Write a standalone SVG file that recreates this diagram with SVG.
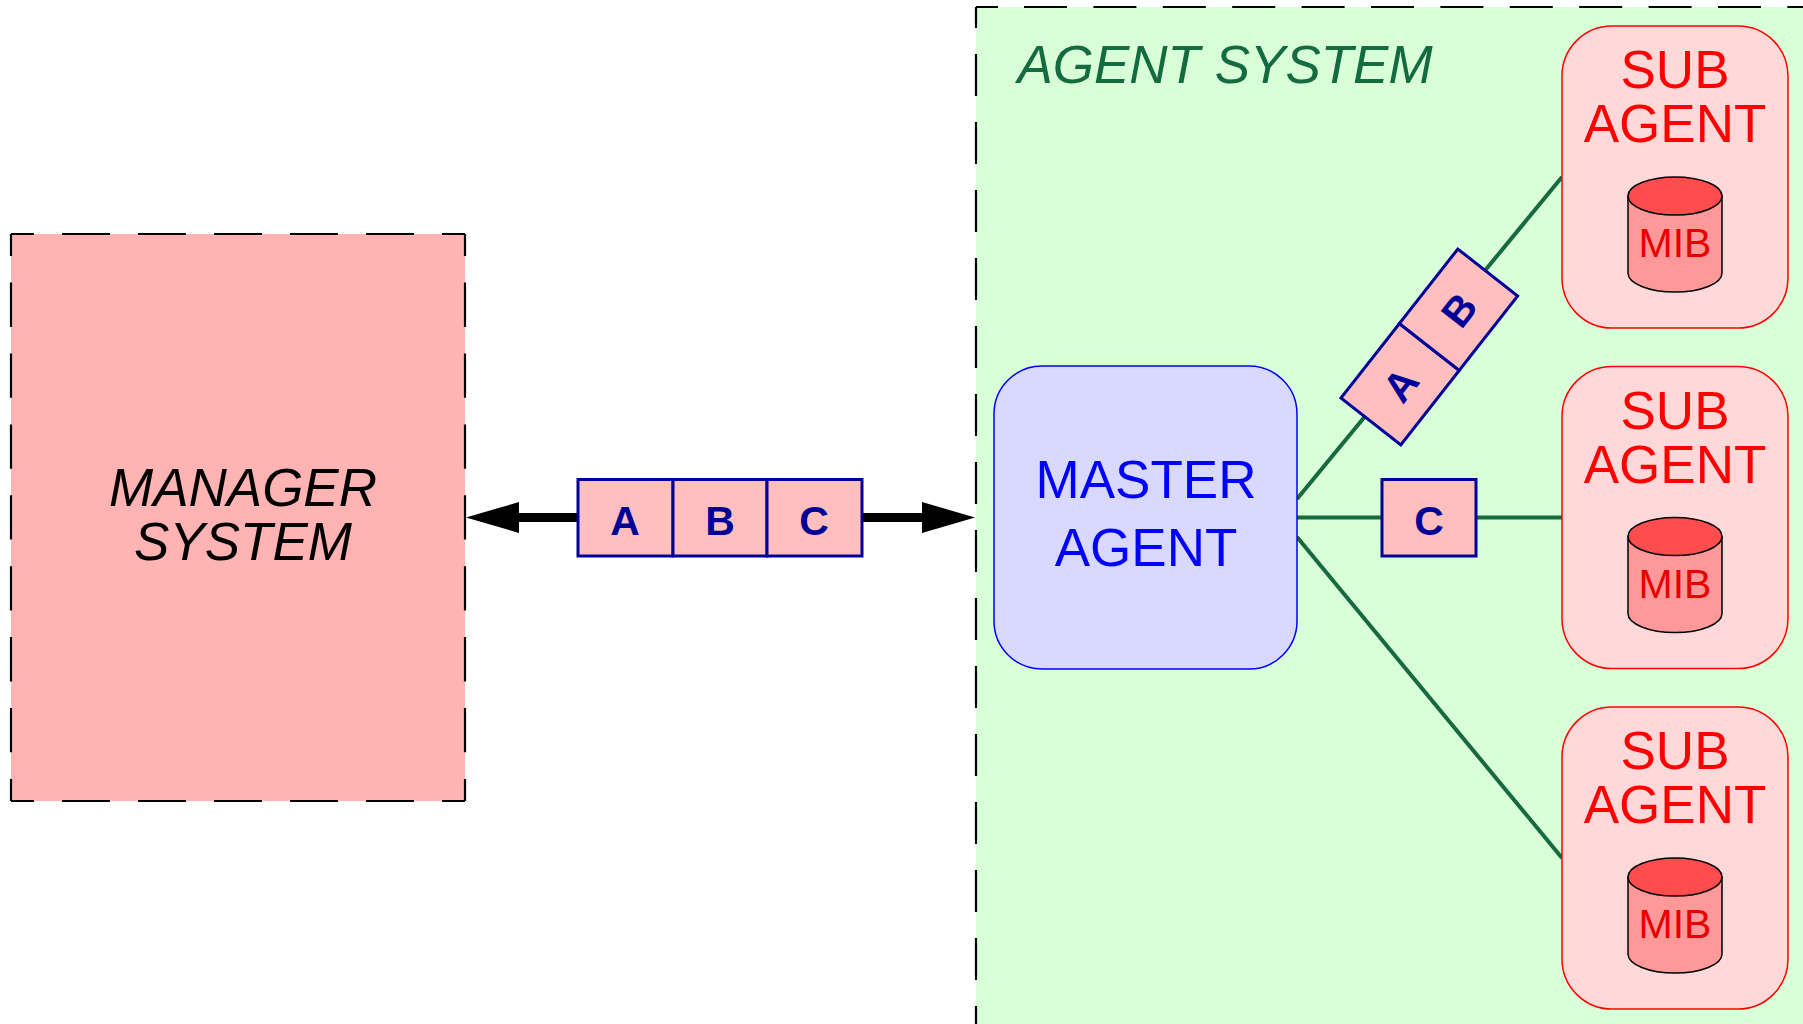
<svg xmlns="http://www.w3.org/2000/svg" width="1803" height="1024" viewBox="0 0 1803 1024">
<style>
text{font-family:"Liberation Sans",Arial,sans-serif;text-anchor:middle}
.big{font-size:53px}
.it{font-style:italic}
.sub{fill:#ff0000}
.mib{font-size:41px;fill:#e60000}
.pk{font-size:41px;font-weight:bold;fill:#000099}
.cell{fill:#ffbfbf;stroke:#000099;stroke-width:3}
.lk{stroke:#166a3e;stroke-width:4;fill:none}
.dm{stroke:#000;stroke-width:2.2;fill:none}
.sa{fill:#ffd9d9;stroke:#ff0000;stroke-width:1.5}
.cb{fill:#ff9999;stroke:#000;stroke-width:1.5}
.ct{fill:#ff4d4d;stroke:#000;stroke-width:1.5}
</style>
<defs>
<g id="sa">
<rect class="sa" x="1562" y="26" width="226" height="302" rx="50" ry="50"/>
<text class="big sub" x="1675" y="88">SUB</text>
<text class="big sub" x="1675" y="142">AGENT</text>
<path class="cb" d="M1628 196V273A47 19 0 0 0 1722 273V196Z"/>
<ellipse class="ct" cx="1675" cy="196" rx="47" ry="19"/>
<text class="mib" x="1675" y="257">MIB</text>
</g>
</defs>
<g id="agent-system">
<rect x="976" y="7" width="827" height="1017" fill="#d9ffd9"/>
<path class="dm" d="M976 7H1803" stroke-dasharray="22 26 43 26.4 43 26.4 43 26.4 43 26.4 43 26.4 43 26.4 43 26.4 43 26.4 43 26.4 43 26.4 43 26.4 43 26.4"/>
<path class="dm" d="M976 7V1024" stroke-dasharray="21 26 42 26 42 26 42 26 42 26 42 26 42 26 42 26 42 26 42 26 42 26 42 26 42 26 42 26 42 26 42 26"/>
<text class="big it" x="1225" y="83" fill="#146b3f">AGENT SYSTEM</text>
</g>
<g id="manager-system">
<rect x="11" y="234" width="454" height="567" fill="#ffb3b3"/>
<path class="dm" d="M11 234H465M11 801H465" stroke-dasharray="23 28 48 28 48 28 48 28 48 28 48 28 48"/>
<path class="dm" d="M11 234V801M465 234V801" stroke-dasharray="22 26.6 44.3 26.6 44.3 26.6 44.3 26.6 44.3 26.6 44.3 26.6 44.3 26.6 44.3 26.6 44.3"/>
<text class="big it" x="243" y="506">MANAGER</text>
<text class="big it" x="243" y="560">SYSTEM</text>
</g>
<g id="connectors">
<path class="lk" d="M1297 499L1562 177"/>
<path class="lk" d="M1297 517.5H1562"/>
<path class="lk" d="M1297 537L1562 858"/>
<path d="M518 517.5H578M862 517.5H922" stroke="#000" stroke-width="9" fill="none"/>
<path d="M466 517.5L519 502V533Z" fill="#000"/>
<path d="M975 517.5L922 502V533Z" fill="#000"/>
</g>
<g id="master-agent">
<rect x="994" y="366" width="303" height="303" rx="48" ry="48" fill="#d9d9ff" stroke="#0000ff" stroke-width="1.5"/>
<text class="big" x="1146" y="498" fill="#0000ff">MASTER</text>
<text class="big" x="1146" y="566" fill="#0000ff">AGENT</text>
</g>
<g id="sub-agent-1"><use href="#sa"/></g>
<g id="sub-agent-2"><use href="#sa" y="340.5"/></g>
<g id="sub-agent-3"><use href="#sa" y="681"/></g>
<g id="packet-abc">
<rect class="cell" x="578" y="479.5" width="95" height="76.5"/>
<rect class="cell" x="673" y="479.5" width="94" height="76.5"/>
<rect class="cell" x="767" y="479.5" width="95" height="76.5"/>
<text class="pk" x="625" y="535">A</text>
<text class="pk" x="720" y="535">B</text>
<text class="pk" x="814" y="535">C</text>
</g>
<g id="packet-c">
<rect class="cell" x="1382" y="479.5" width="94" height="76.5"/>
<text class="pk" x="1429" y="535">C</text>
</g>
<g id="packet-ab" transform="translate(1429.3 347) rotate(-51.9)">
<rect class="cell" x="-94.7" y="-38" width="94.7" height="76"/>
<rect class="cell" x="0" y="-38" width="94.7" height="76"/>
<text class="pk" x="-47.4" y="15">A</text>
<text class="pk" x="47.4" y="15">B</text>
</g>
</svg>
